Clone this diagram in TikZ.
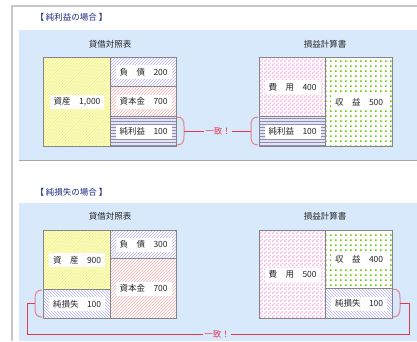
\documentclass[tikz,border=0pt]{standalone}
\usepackage{fontspec}
\newfontfamily\jp{Noto Sans CJK JP}
\usetikzlibrary{patterns,patterns.meta}
\definecolor{panelblue}{HTML}{D8E9FB}
\definecolor{framegray}{HTML}{C8C8C8}
\definecolor{boxgray}{HTML}{858585}
\definecolor{titlenavy}{HTML}{1A2A80}
\definecolor{hatchyellow}{HTML}{F0F060}
\definecolor{baseyellow}{HTML}{FFFFD8}
\definecolor{hatchlav}{HTML}{B4B4F0}
\definecolor{hatchpink}{HTML}{F4B0B0}
\definecolor{hlines}{HTML}{8C8CB4}
\definecolor{hlbase}{HTML}{E4E4F2}
\definecolor{checkpink}{HTML}{F8BCE6}
\definecolor{dotgreen}{HTML}{66CC00}
\definecolor{bracepink}{HTML}{E8808E}
\definecolor{linered}{HTML}{E23A4A}
\tikzdeclarepattern{
  name=smallcheck,
  type=uncolored,
  bounding box={(0pt,0pt) and (4pt,4pt)},
  tile size={(4pt,4pt)},
  code={
    \fill (0pt,0pt) rectangle (2pt,2pt);
    \fill (2pt,2pt) rectangle (4pt,4pt);
  }
}
\tikzdeclarepattern{
  name=greendots,
  type=uncolored,
  bounding box={(0pt,0pt) and (4.5pt,4.5pt)},
  tile size={(4.5pt,4.5pt)},
  code={
    \fill (1.2pt,1.2pt) rectangle (3pt,3pt);
  }
}
\tikzset{
  cell/.style={draw=boxgray, line width=1.2pt, anchor=north west, inner sep=0pt, rectangle},
  yel/.style={cell, preaction={fill=baseyellow}, pattern=north east lines, pattern color=hatchyellow},
  lav/.style={cell, preaction={fill=white}, pattern=north east lines, pattern color=hatchlav},
  lavnw/.style={cell, preaction={fill=white}, pattern=north west lines, pattern color=hatchlav},
  pnk/.style={cell, preaction={fill=white}, pattern=north east lines, pattern color=hatchpink},
  hor/.style={cell, preaction={fill=hlbase}, pattern=horizontal lines, pattern color=hlines},
  chk/.style={cell, preaction={fill=white}, pattern=smallcheck, pattern color=checkpink},
  dts/.style={cell, preaction={fill=white}, pattern=greendots, pattern color=dotgreen},
  lbl/.style={fill=white, inner xsep=4pt, inner ysep=3pt, font=\jp\fontsize{8.5}{10}\selectfont, text=black!85},
  hdr/.style={font=\jp\fontsize{8.5}{10}\selectfont, text=black!85},
  ttl/.style={font=\jp\fontsize{8.5}{10}\selectfont, text=titlenavy, anchor=west},
  brc/.style={draw=bracepink, line width=1pt},
  conn/.style={draw=linered, line width=0.9pt},
  itchi/.style={font=\jp\fontsize{8.5}{10}\selectfont, text=linered, inner sep=1pt},
}
\begin{document}
\begin{tikzpicture}[x=1pt,y=-1pt]
\useasboundingbox (0,0) rectangle (417,341);
\fill[white] (0,0) rectangle (417,341);
% frame
\draw[framegray, line width=2pt] (12,341) -- (12,6) -- (417,6);
% panels
\fill[panelblue] (19,30) rectangle (417,160);
\draw[gray!70, line width=1pt] (19,160) -- (417,160);
\fill[panelblue] (19,203) rectangle (417,341);

% ===== section 1 =====
\node[ttl] (t1) at (32,17) {【 純利益の場合 】};
\node[hdr] (h1) at (110,44) {貸借対照表};
\node[hdr] (h2) at (325,44) {損益計算書};

\node[yel, minimum width=67pt, minimum height=89pt] (bs1A) at (43,57) {};
\node[lav, minimum width=66pt, minimum height=29pt] (bs1L) at (110,57) {};
\node[pnk, minimum width=66pt, minimum height=30pt] (bs1C) at (110,86) {};
\node[hor, minimum width=66pt, minimum height=30pt] (bs1N) at (110,116) {};
\node[lbl] at (bs1A.center) {資産　1,000};
\node[lbl] at (bs1L.center) {負　債　200};
\node[lbl] at (bs1C.center) {資本金　700};
\node[lbl] at (bs1N.center) {純利益　100};

\node[chk, minimum width=66pt, minimum height=59pt] (pl1E) at (259,57) {};
\node[hor, minimum width=66pt, minimum height=30pt] (pl1N) at (259,116) {};
\node[dts, minimum width=67pt, minimum height=89pt] (pl1R) at (325,57) {};
\node[lbl] at (pl1E.center) {費　用　400};
\node[lbl] at (pl1N.center) {純利益　100};
\node[lbl] at (pl1R.center) {収　益　500};

\draw[brc] (177,117) .. controls (183,117) and (184,121) .. (184,126) -- (184,136) .. controls (184,141) and (183,145) .. (177,145);
\draw[brc] (258,117) .. controls (252,117) and (251,121) .. (251,126) -- (251,136) .. controls (251,141) and (252,145) .. (258,145);
\coordinate (b1) at (184,131);
\coordinate (b2) at (251,131);
\node[itchi] (i1) at (218,131) {一致！};
\draw[conn] (b1) -- (i1.west);
\draw[conn] (i1.east) -- (b2);

% ===== section 2 =====
\node[ttl] (t2) at (32,192) {【 純損失の場合 】};
\node[hdr] (h3) at (110,216) {貸借対照表};
\node[hdr] (h4) at (325,216) {損益計算書};

\node[yel, minimum width=67pt, minimum height=59pt] (bs2A) at (43,230) {};
\node[lavnw, minimum width=67pt, minimum height=29pt] (bs2N) at (43,289) {};
\node[lav, minimum width=66pt, minimum height=28pt] (bs2L) at (110,230) {};
\node[pnk, minimum width=66pt, minimum height=60pt] (bs2C) at (110,258) {};
\node[lbl] at (bs2A.center) {資　産　900};
\node[lbl] at (bs2N.center) {純損失　100};
\node[lbl] at (bs2L.center) {負　債　300};
\node[lbl] at (bs2C.center) {資本金　700};

\node[chk, minimum width=66pt, minimum height=88pt] (pl2E) at (259,230) {};
\node[dts, minimum width=67pt, minimum height=58pt] (pl2R) at (325,230) {};
\node[lavnw, minimum width=67pt, minimum height=30pt] (pl2N) at (325,288) {};
\node[lbl] at (pl2E.center) {費　用　500};
\node[lbl] at (pl2R.center) {収　益　400};
\node[lbl] at (pl2N.center) {純損失　100};

\draw[brc] (42,290) .. controls (36,290) and (35,294) .. (35,299) -- (35,308) .. controls (35,313) and (36,317) .. (42,317);
\draw[brc] (393,289) .. controls (399,289) and (400,293) .. (400,298) -- (400,308) .. controls (400,313) and (399,317) .. (393,317);
\coordinate (b3) at (35,303);
\coordinate (b4) at (400,303);
\node[itchi] (i2) at (217,334) {一致！};
\draw[conn] (b3) -- (27,303) -- (27,334) -- (i2.west);
\draw[conn] (i2.east) -- (409,334) -- (409,303) -- (b4);
\end{tikzpicture}
\end{document}
